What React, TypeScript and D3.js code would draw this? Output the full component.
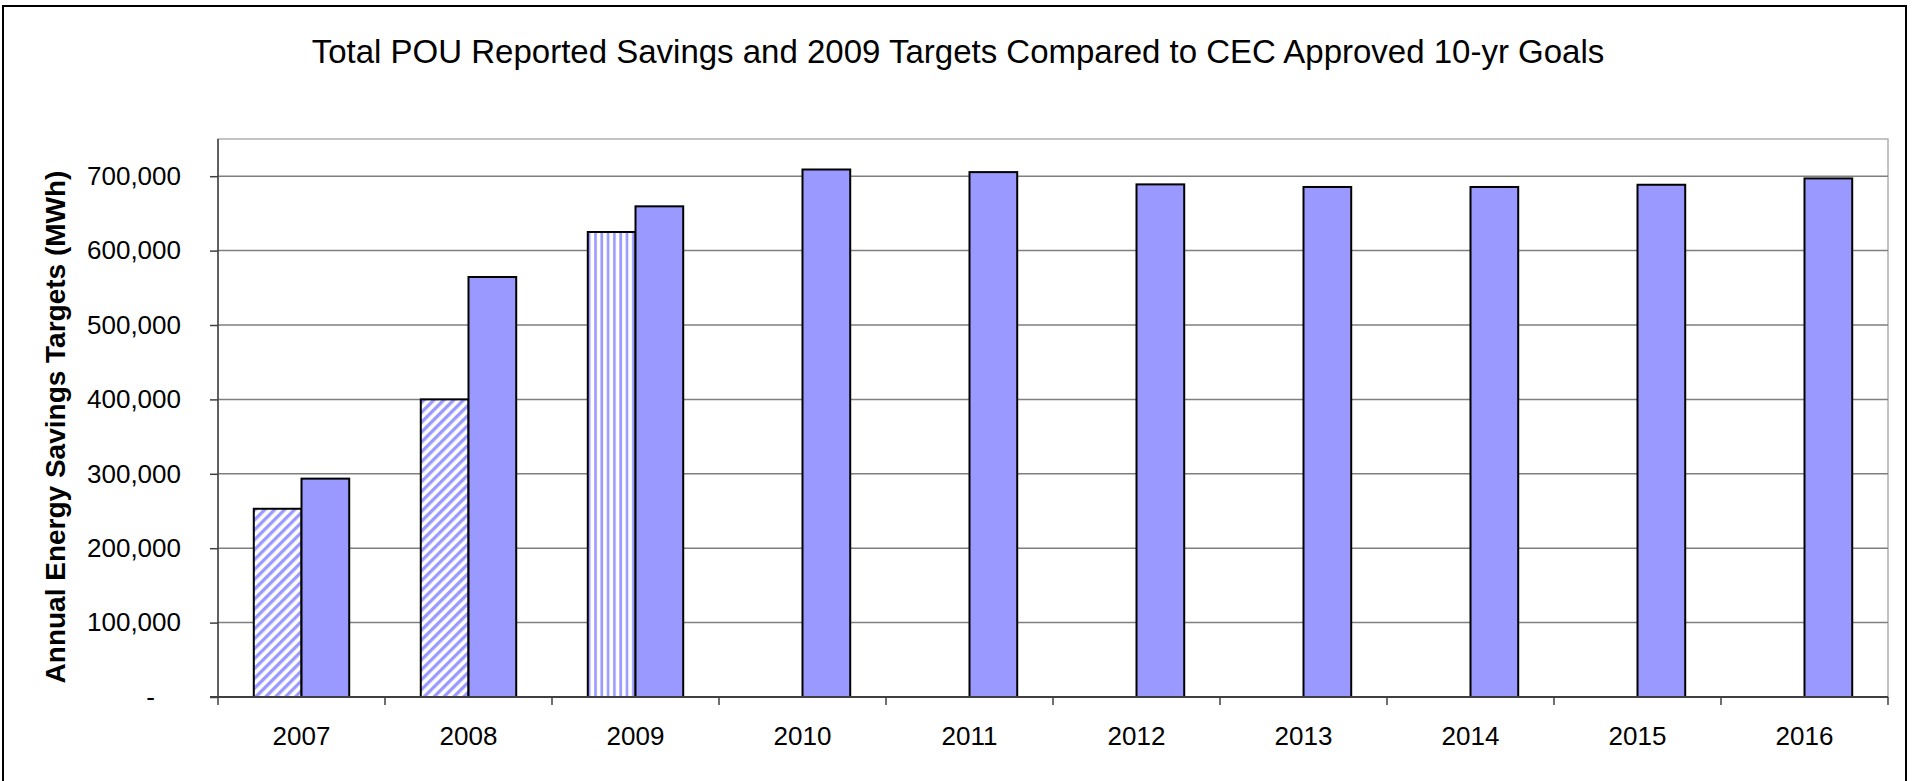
import React, { useRef, useEffect } from "react";
import { select, scaleBand, scaleLinear, axisLeft, axisBottom } from "d3";

const categories = ["2007", "2008", "2009", "2010", "2011", "2012", "2013", "2014", "2015", "2016"];
const reportedSavings = [253000, 400000, null, null, null, null, null, null, null, null];
const targets2009 = [null, null, 625000, null, null, null, null, null, null, null];
const cecGoals = [293500, 564500, 659500, 709000, 705500, 689000, 685500, 685500, 688500, 697000];
const yTicks = [0, 100000, 200000, 300000, 400000, 500000, 600000, 700000];
const yTickLabels = ["-", "100,000", "200,000", "300,000", "400,000", "500,000", "600,000", "700,000"];

const title = "Total POU Reported Savings and 2009 Targets Compared to CEC Approved 10-yr Goals";
const yTitle = "Annual Energy Savings Targets (MWh)";

const W = 1913;
const H = 781;
const plot = { left: 218, right: 1888, top: 139, bottom: 697 };
const font = "'Liberation Sans', Arial, sans-serif";
const barColor = "#9999FF";

function App() {
  const svgRef = useRef(null);

  useEffect(() => {
    const svg = select(svgRef.current);

    const x = scaleBand().domain(categories).range([plot.left, plot.right]);
    const xSub = scaleBand()
      .domain(["left", "right"])
      .range([0, x.bandwidth()])
      .paddingInner(0)
      .paddingOuter(0.75);
    const y = scaleLinear().domain([0, 750000]).range([plot.bottom, plot.top]);

    // gridlines
    svg
      .select(".grid")
      .selectAll("line")
      .data(yTicks.filter((d) => d > 0))
      .join("line")
      .attr("x1", plot.left)
      .attr("x2", plot.right)
      .attr("y1", (d) => y(d))
      .attr("y2", (d) => y(d))
      .attr("stroke", "#7f7f7f")
      .attr("stroke-width", 1.5);

    // y axis
    const yAxis = axisLeft(y)
      .tickValues(yTicks)
      .tickSize(8)
      .tickPadding(29)
      .tickFormat((d, i) => yTickLabels[i]);
    const yg = svg.select(".y-axis").attr("transform", `translate(${plot.left},0)`).call(yAxis);
    yg.select(".domain").attr("stroke", "#404040").attr("stroke-width", 1.5).attr("d", `M0,${plot.top}V${plot.bottom}`);
    yg.selectAll(".tick line").attr("stroke", "#404040").attr("stroke-width", 1.5);
    yg.selectAll(".tick text")
      .attr("font-family", font)
      .attr("font-size", 26)
      .attr("fill", "#000")
      .attr("dx", (d) => (d === 0 ? -26 : 0));

    // x axis
    const xAxis = axisBottom(x).tickSize(0).tickPadding(30);
    const xg = svg.select(".x-axis").attr("transform", `translate(0,${plot.bottom})`).call(xAxis);
    xg.select(".domain").attr("stroke", "#404040").attr("stroke-width", 2).attr("d", `M${plot.left - 8},0H${plot.right}`);
    xg.selectAll(".tick text").attr("font-family", font).attr("font-size", 26).attr("fill", "#000");
    xg.selectAll(".sep")
      .data([...categories.map((c) => x(c)), plot.right])
      .join("line")
      .attr("class", "sep")
      .attr("x1", (d) => d)
      .attr("x2", (d) => d)
      .attr("y1", 0)
      .attr("y2", 8)
      .attr("stroke", "#404040")
      .attr("stroke-width", 1.5);

    // bars
    const bars = [];
    categories.forEach((c, i) => {
      if (reportedSavings[i] != null) bars.push({ c, v: reportedSavings[i], slot: "left", fill: "url(#diag)" });
      if (targets2009[i] != null) bars.push({ c, v: targets2009[i], slot: "left", fill: "url(#vert)" });
      if (cecGoals[i] != null) bars.push({ c, v: cecGoals[i], slot: "right", fill: barColor });
    });

    svg
      .select(".bars")
      .selectAll("rect")
      .data(bars)
      .join("rect")
      .attr("x", (d) => x(d.c) + xSub(d.slot))
      .attr("y", (d) => y(d.v))
      .attr("width", xSub.bandwidth())
      .attr("height", (d) => plot.bottom - y(d.v))
      .attr("fill", (d) => d.fill)
      .attr("stroke", "#000")
      .attr("stroke-width", 2);
  }, []);

  return (
    <svg
      ref={svgRef}
      width={W}
      height={H}
      style={{ position: "absolute", left: 0, top: 0, background: "#fff" }}
    >
      <defs>
        <pattern id="diag" patternUnits="userSpaceOnUse" width="7" height="7" patternTransform="rotate(45)">
          <rect width="7" height="7" fill="#fff" />
          <rect width="3.3" height="7" fill={barColor} />
        </pattern>
        <pattern id="vert" patternUnits="userSpaceOnUse" width="6.3" height="10">
          <rect width="6.3" height="10" fill="#fff" />
          <rect x="2" width="2.6" height="10" fill={barColor} />
        </pattern>
      </defs>
      <rect x="3" y="6" width="1903" height="800" fill="#fff" stroke="#000" strokeWidth="2" />
      <text x="958" y="63" textAnchor="middle" fontFamily={font} fontSize="33" fill="#000">
        {title}
      </text>
      <rect
        x={plot.left}
        y={plot.top}
        width={plot.right - plot.left}
        height={plot.bottom - plot.top}
        fill="none"
        stroke="#b0b0b0"
        strokeWidth="1.5"
      />
      <g className="grid" />
      <g className="bars" />
      <g className="y-axis" />
      <g className="x-axis" />
      <text
        transform="translate(58,427) rotate(-90)"
        textAnchor="middle"
        dominantBaseline="middle"
        fontFamily={font}
        fontSize="28"
        fontWeight="bold"
        fill="#000"
      >
        {yTitle}
      </text>
    </svg>
  );
}

export default App;
